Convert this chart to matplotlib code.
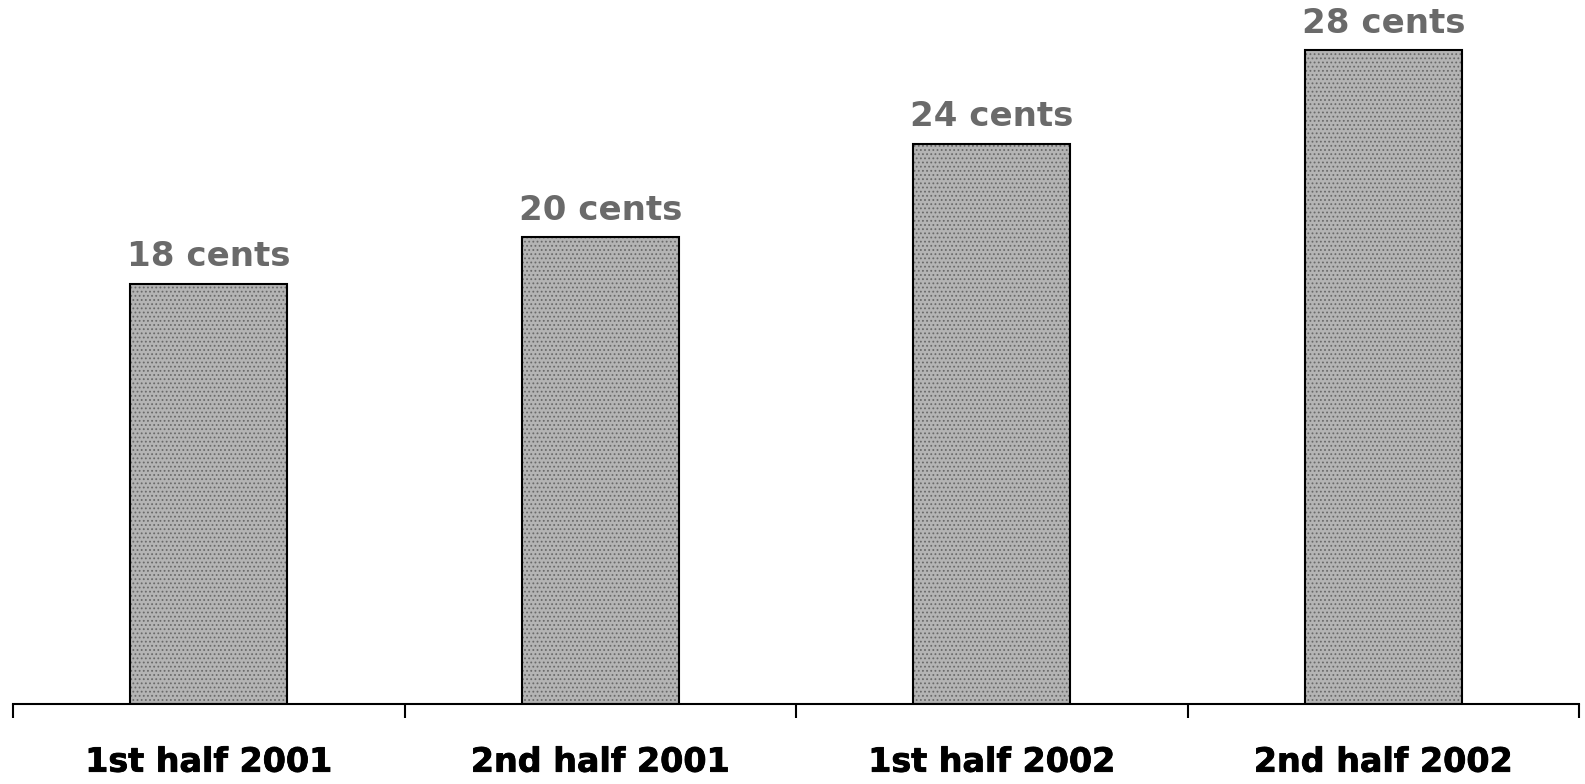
import matplotlib
matplotlib.use("Agg")
import matplotlib.pyplot as plt
import matplotlib.patheffects as pe
import numpy as np

categories = ["1st half 2001", "2nd half 2001", "1st half 2002", "2nd half 2002"]
values = [18, 20, 24, 28]
value_labels = ["18 cents", "20 cents", "24 cents", "28 cents"]

W, H = 1585, 784
fig = plt.figure(figsize=(W / 100, H / 100), dpi=100)
ax = fig.add_axes([13 / W, 80 / H, (1579 - 13) / W, 704 / H])

x = np.arange(len(categories))
plt.rcParams["hatch.linewidth"] = 0.8
# textured fill
ax.bar(x, values, width=0.40, color="#b4b4b4", edgecolor="#6a6a6a", linewidth=0,
       hatch="....", zorder=2)
# outline
ax.bar(x, values, width=0.40, fill=False, edgecolor="black", linewidth=1.5, zorder=3)

for xi, v, lab in zip(x, values, value_labels):
    ax.annotate(lab, (xi, v), xytext=(0, 12.5), textcoords="offset points",
                ha="center", va="baseline", fontsize=24.5, fontweight="bold",
                color="#6a6a6a", family="DejaVu Sans")

ax.set_xlim(-0.5, len(categories) - 0.5)
ax.set_ylim(0, 30.15)

for s in ["left", "right", "top"]:
    ax.spines[s].set_visible(False)
ax.spines["bottom"].set_linewidth(1.5)
ax.spines["bottom"].set_color("black")

ax.set_yticks([])
ax.set_xticks(x)
ax.set_xticklabels(categories, fontsize=24, fontweight="bold", family="DejaVu Sans")
for t in ax.get_xticklabels():
    t.set_path_effects([pe.withStroke(linewidth=0.6, foreground="black")])
ax.tick_params(axis="x", which="major", length=0, pad=30)
ax.set_xticks(np.arange(-0.5, len(categories) + 0.5, 1.0), minor=True)
ax.tick_params(axis="x", which="minor", length=10, width=1.5, direction="out", color="black")

fig.savefig("out.png", dpi=100)
